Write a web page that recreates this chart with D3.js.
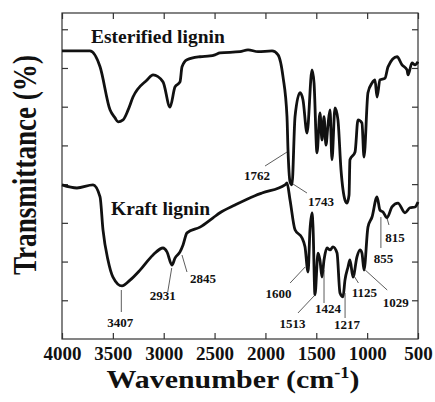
<!DOCTYPE html>
<html>
<head>
<meta charset="utf-8">
<script src="https://cdn.jsdelivr.net/npm/d3@7"></script>
<style>
  body { margin: 0; background: #fff; }
  text { font-family: "Liberation Serif", "Times New Roman", serif; font-weight: bold; fill: #111; }
</style>
</head>
<body>
<script>
// wavenumber (cm-1) / transmittance (arbitrary)
const esterWn = [4000, 3725, 3626, 3528, 3479, 3449, 3400, 3351, 3302, 3164, 3105, 3007, 2938, 2889, 2840, 2820, 2771, 2643, 2545, 2496, 2447, 2250, 2171, 2073, 1935, 1876, 1827, 1788, 1778, 1758, 1739, 1709, 1660, 1631, 1591, 1542, 1522, 1493, 1464, 1444, 1424, 1405, 1385, 1365, 1346, 1316, 1287, 1257, 1237, 1218, 1198, 1178, 1169, 1119, 1090, 1051, 1031, 992, 952, 923, 903, 874, 824, 795, 706, 657, 608, 598, 559, 529, 500];
const esterT  = [74.4, 74.4, 70.3, 59.2, 57.1, 56.1, 56.6, 59.1, 62.5, 66.9, 68.2, 66.4, 59.9, 65.1, 66.4, 70.3, 72.1, 72.9, 73.1, 73.4, 73.9, 74.2, 74.7, 74.2, 74.4, 73.4, 67.7, 57.4, 48.8, 40.6, 39.8, 57.4, 63.6, 61.8, 53.2, 69.5, 66.1, 48.1, 58.4, 51.4, 57.4, 50.1, 55.3, 59.2, 46.3, 59.7, 56.6, 43.7, 38.5, 35.9, 35.1, 37.2, 46.3, 48.3, 56.6, 55.8, 47.0, 63.6, 66.1, 66.9, 62.5, 66.9, 67.4, 70.3, 72.9, 70.8, 69.5, 68.2, 71.3, 70.8, 71.6];

const kraftWn = [4000, 3853, 3695, 3626, 3597, 3548, 3499, 3410, 3331, 3233, 3105, 3007, 2968, 2919, 2889, 2840, 2810, 2771, 2643, 2515, 2447, 2299, 2103, 2034, 1808, 1788, 1758, 1709, 1640, 1611, 1581, 1562, 1542, 1532, 1513, 1483, 1464, 1444, 1424, 1395, 1365, 1336, 1296, 1267, 1237, 1218, 1188, 1169, 1139, 1100, 1070, 1051, 1031, 992, 952, 903, 874, 844, 805, 756, 697, 628, 579, 529, 500];
const kraftT  = [39.8, 39.0, 39.8, 36.7, 28.2, 20.4, 16.0, 13.7, 15.2, 17.8, 21.7, 23.5, 22.5, 19.1, 20.9, 22.5, 24.3, 27.4, 28.9, 31.3, 32.6, 34.6, 37.0, 37.7, 39.8, 40.3, 35.9, 28.2, 26.1, 23.8, 17.3, 28.2, 32.6, 28.9, 11.4, 22.2, 20.4, 16.0, 20.4, 23.5, 23.0, 23.8, 22.2, 11.9, 10.9, 15.2, 18.6, 20.4, 16.0, 21.2, 23.0, 22.2, 17.8, 28.9, 31.5, 36.7, 33.3, 32.8, 31.3, 34.1, 35.1, 32.6, 33.9, 34.1, 35.4];

const seriesNames = ["Esterified lignin", "Kraft lignin"];
const xTicks = [4000, 3500, 3000, 2500, 2000, 1500, 1000, 500];
const yTicks = [10, 20, 30, 40, 50, 60, 70, 80];

// labelled bands
const peakLabels = [1762, 1743, 3407, 2931, 2845, 1600, 1513, 1424, 1217, 1125, 1029, 855, 815];

// leader layout: [dx1, y1, dx2, y2, text dx, text y] relative to x(peak)
const leaderLayout = {
  1762: [-2.6, 152, -24.6, 166, -32.6, 180],
  1743: [1.4, 184, 15.4, 193, 29.4, 206],
  3407: [-1, 290, -1, 312, -2, 327],
  2931: [1, 268, -3, 292, -8, 300],
  2845: [2.5, 255, 7.5, 272, 23.5, 283],
  1600: [-1, 267, -16, 283, -27.6, 298],
  1513: [0, 295, -17, 313, -22.4, 328],
  1424: [0, 270, 0, 303, 4, 313],
  1217: [0, 293, 0, 318, 2, 329],
  1125: [-1, 275, 4, 283, 10, 297],
  1029: [1, 270, 23, 290, 31.5, 307],
  855:  [-1, 217, -1, 248, 1.6, 263],
  815:  [1, 218, 3, 225, 9, 242]
};

const W = 435, H = 402;
const L = 62, R = 418, T = 13, B = 339;

const svg = d3.select("body").append("svg")
    .attr("width", W)
    .attr("height", H);

const x = d3.scaleLinear().domain([4000, 500]).range([L, R]);
const y = d3.scaleLinear().domain([0, 84.2]).range([B, T]);

// frame
svg.append("rect")
    .attr("x", L).attr("y", T)
    .attr("width", R - L).attr("height", B - T)
    .attr("fill", "none")
    .attr("stroke", "#333")
    .attr("stroke-width", 1.2);

// axes, ticks pointing inward
const bottomAxis = svg.append("g")
    .attr("transform", `translate(0,${B})`)
    .call(d3.axisBottom(x).tickValues(xTicks).tickFormat(d3.format("d"))
      .tickSizeInner(-6).tickSizeOuter(0).tickPadding(8));
bottomAxis.selectAll("text")
    .style("font-size", "19px")
    .attr("fill", "#111");

svg.append("g")
    .attr("transform", `translate(0,${T})`)
    .call(d3.axisTop(x).tickValues(xTicks).tickSizeInner(-6).tickSizeOuter(0).tickFormat(""));

svg.append("g")
    .attr("transform", `translate(${L},0)`)
    .call(d3.axisLeft(y).tickValues(yTicks).tickSizeInner(-6).tickSizeOuter(0).tickFormat(""));

svg.append("g")
    .attr("transform", `translate(${R},0)`)
    .call(d3.axisRight(y).tickValues(yTicks).tickSizeInner(-6).tickSizeOuter(0).tickFormat(""));

svg.selectAll(".domain").remove();
svg.selectAll(".tick line").attr("stroke", "#333").attr("stroke-width", 1.2);

// spectra
const line = d3.line()
    .curve(d3.curveMonotoneX)
    .x(d => x(d[0]))
    .y(d => y(d[1]));

const ester = esterWn.map((w, i) => [w, esterT[i]]);
const kraft = kraftWn.map((w, i) => [w, kraftT[i]]);

svg.selectAll("path.spectrum")
    .data([ester, kraft])
    .enter()
    .append("path")
    .attr("class", "spectrum")
    .attr("d", line)
    .attr("fill", "none")
    .attr("stroke", "#111")
    .attr("stroke-width", 2.8)
    .attr("stroke-linejoin", "round");

// series names
svg.append("text")
    .attr("x", 91).attr("y", 43)
    .style("font-size", "19.5px")
    .text(seriesNames[0]);

svg.append("text")
    .attr("x", 111).attr("y", 215)
    .style("font-size", "19.5px")
    .text(seriesNames[1]);

// band labels with leader lines
peakLabels.forEach(p => {
  const [dx1, y1, dx2, y2, tdx, ty] = leaderLayout[p];
  const px = x(p);
  svg.append("line")
      .attr("x1", px + dx1).attr("y1", y1)
      .attr("x2", px + dx2).attr("y2", y2)
      .attr("stroke", "#333")
      .attr("stroke-width", 0.8);
  svg.append("text")
      .attr("x", px + tdx).attr("y", ty)
      .attr("text-anchor", "middle")
      .style("font-size", "13px")
      .text(p);
});

// axis titles
const xTitle = svg.append("text")
    .attr("transform", "translate(233,388) scale(1.15,1)")
    .attr("text-anchor", "middle")
    .style("font-size", "26px");
xTitle.append("tspan").text("Wavenumber (cm");
xTitle.append("tspan").attr("dy", -10).style("font-size", "16px").text("-1");
xTitle.append("tspan").attr("dy", 10).text(")");

svg.append("text")
    .attr("transform", "translate(36,165) rotate(-90)")
    .attr("text-anchor", "middle")
    .attr("textLength", 220)
    .attr("lengthAdjust", "spacingAndGlyphs")
    .style("font-size", "33px")
    .text("Transmittance (%)");
</script>
</body>
</html>
